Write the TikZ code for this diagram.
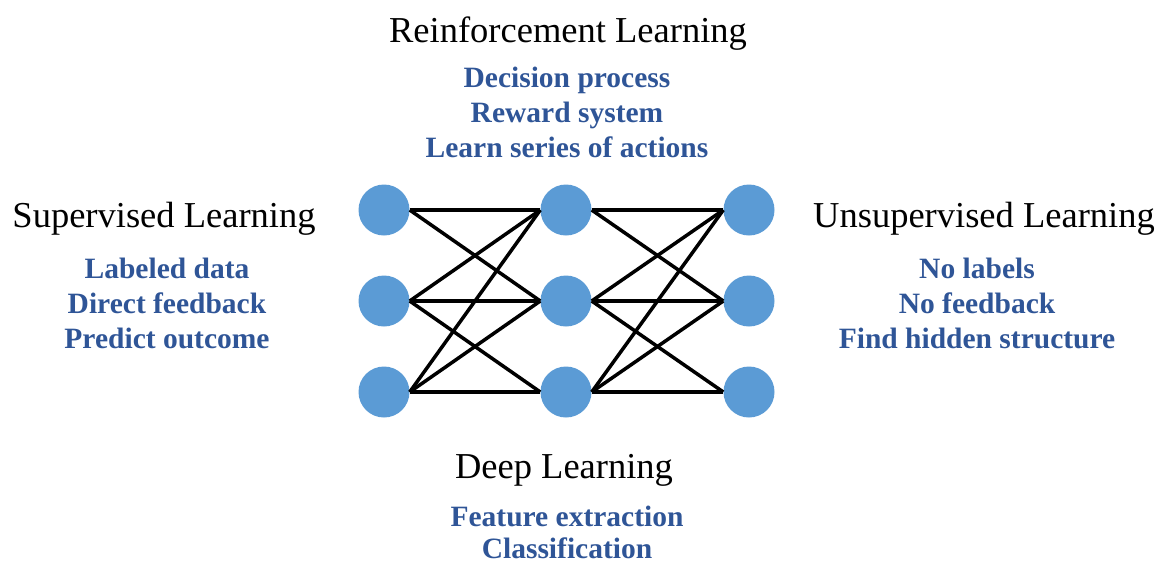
\documentclass[tikz,border=0pt]{standalone}
\usepackage{fontspec}
\setmainfont{Liberation Serif}
\definecolor{nodeblue}{HTML}{5B9BD5}
\definecolor{textblue}{HTML}{2F5597}
\tikzset{
  neuron/.style={circle, fill=nodeblue, draw=none, minimum size=51pt, inner sep=0pt},
  title/.style={anchor=base, font=\fontsize{36.5}{40}\selectfont, text=black, inner sep=0pt},
  item/.style={anchor=base, font=\fontsize{29.5}{33}\selectfont\bfseries, text=textblue, inner sep=0pt},
  link/.style={line width=3.5pt, black}
}
\begin{document}
\begin{tikzpicture}[x=1pt, y=-1pt]
\useasboundingbox (0,0) rectangle (1161,565);
% neurons
\node[neuron] (a1) at (384,210) {};
\node[neuron] (a2) at (384,301) {};
\node[neuron] (a3) at (384,392) {};
\node[neuron] (b1) at (566,210) {};
\node[neuron] (b2) at (566,301) {};
\node[neuron] (b3) at (566,392) {};
\node[neuron] (c1) at (749,210) {};
\node[neuron] (c2) at (749,301) {};
\node[neuron] (c3) at (749,392) {};
% links
\draw[link] (a1.east) -- (b1.west);
\draw[link] (a1.east) -- (b2.west);
\draw[link] (a2.east) -- (b1.west);
\draw[link] (a2.east) -- (b2.west);
\draw[link] (a2.east) -- (b3.west);
\draw[link] (a3.east) -- (b1.west);
\draw[link] (a3.east) -- (b2.west);
\draw[link] (a3.east) -- (b3.west);
\draw[link] (b1.east) -- (c1.west);
\draw[link] (b1.east) -- (c2.west);
\draw[link] (b2.east) -- (c1.west);
\draw[link] (b2.east) -- (c2.west);
\draw[link] (b2.east) -- (c3.west);
\draw[link] (b3.east) -- (c1.west);
\draw[link] (b3.east) -- (c2.west);
\draw[link] (b3.east) -- (c3.west);
% top
\node[title] (rl) at (568,42) {Reinforcement Learning};
\node[item] (rl1) at (567,87) {Decision process};
\node[item] (rl2) at (567,122) {Reward system};
\node[item] (rl3) at (567,157) {Learn series of actions};
% left
\node[title] (sl) at (164,227) {Supervised Learning};
\node[item] (sl1) at (167,278) {Labeled data};
\node[item] (sl2) at (167,313) {Direct feedback};
\node[item] (sl3) at (167,348) {Predict outcome};
% right
\node[title] (ul) at (984,227) {Unsupervised Learning};
\node[item] (ul1) at (977,278) {No labels};
\node[item] (ul2) at (977,313) {No feedback};
\node[item] (ul3) at (977,348) {Find hidden structure};
% bottom
\node[title] (dl) at (564,478) {Deep Learning};
\node[item] (dl1) at (567,526) {Feature extraction};
\node[item] (dl2) at (567,558) {Classification};
\end{tikzpicture}
\end{document}
